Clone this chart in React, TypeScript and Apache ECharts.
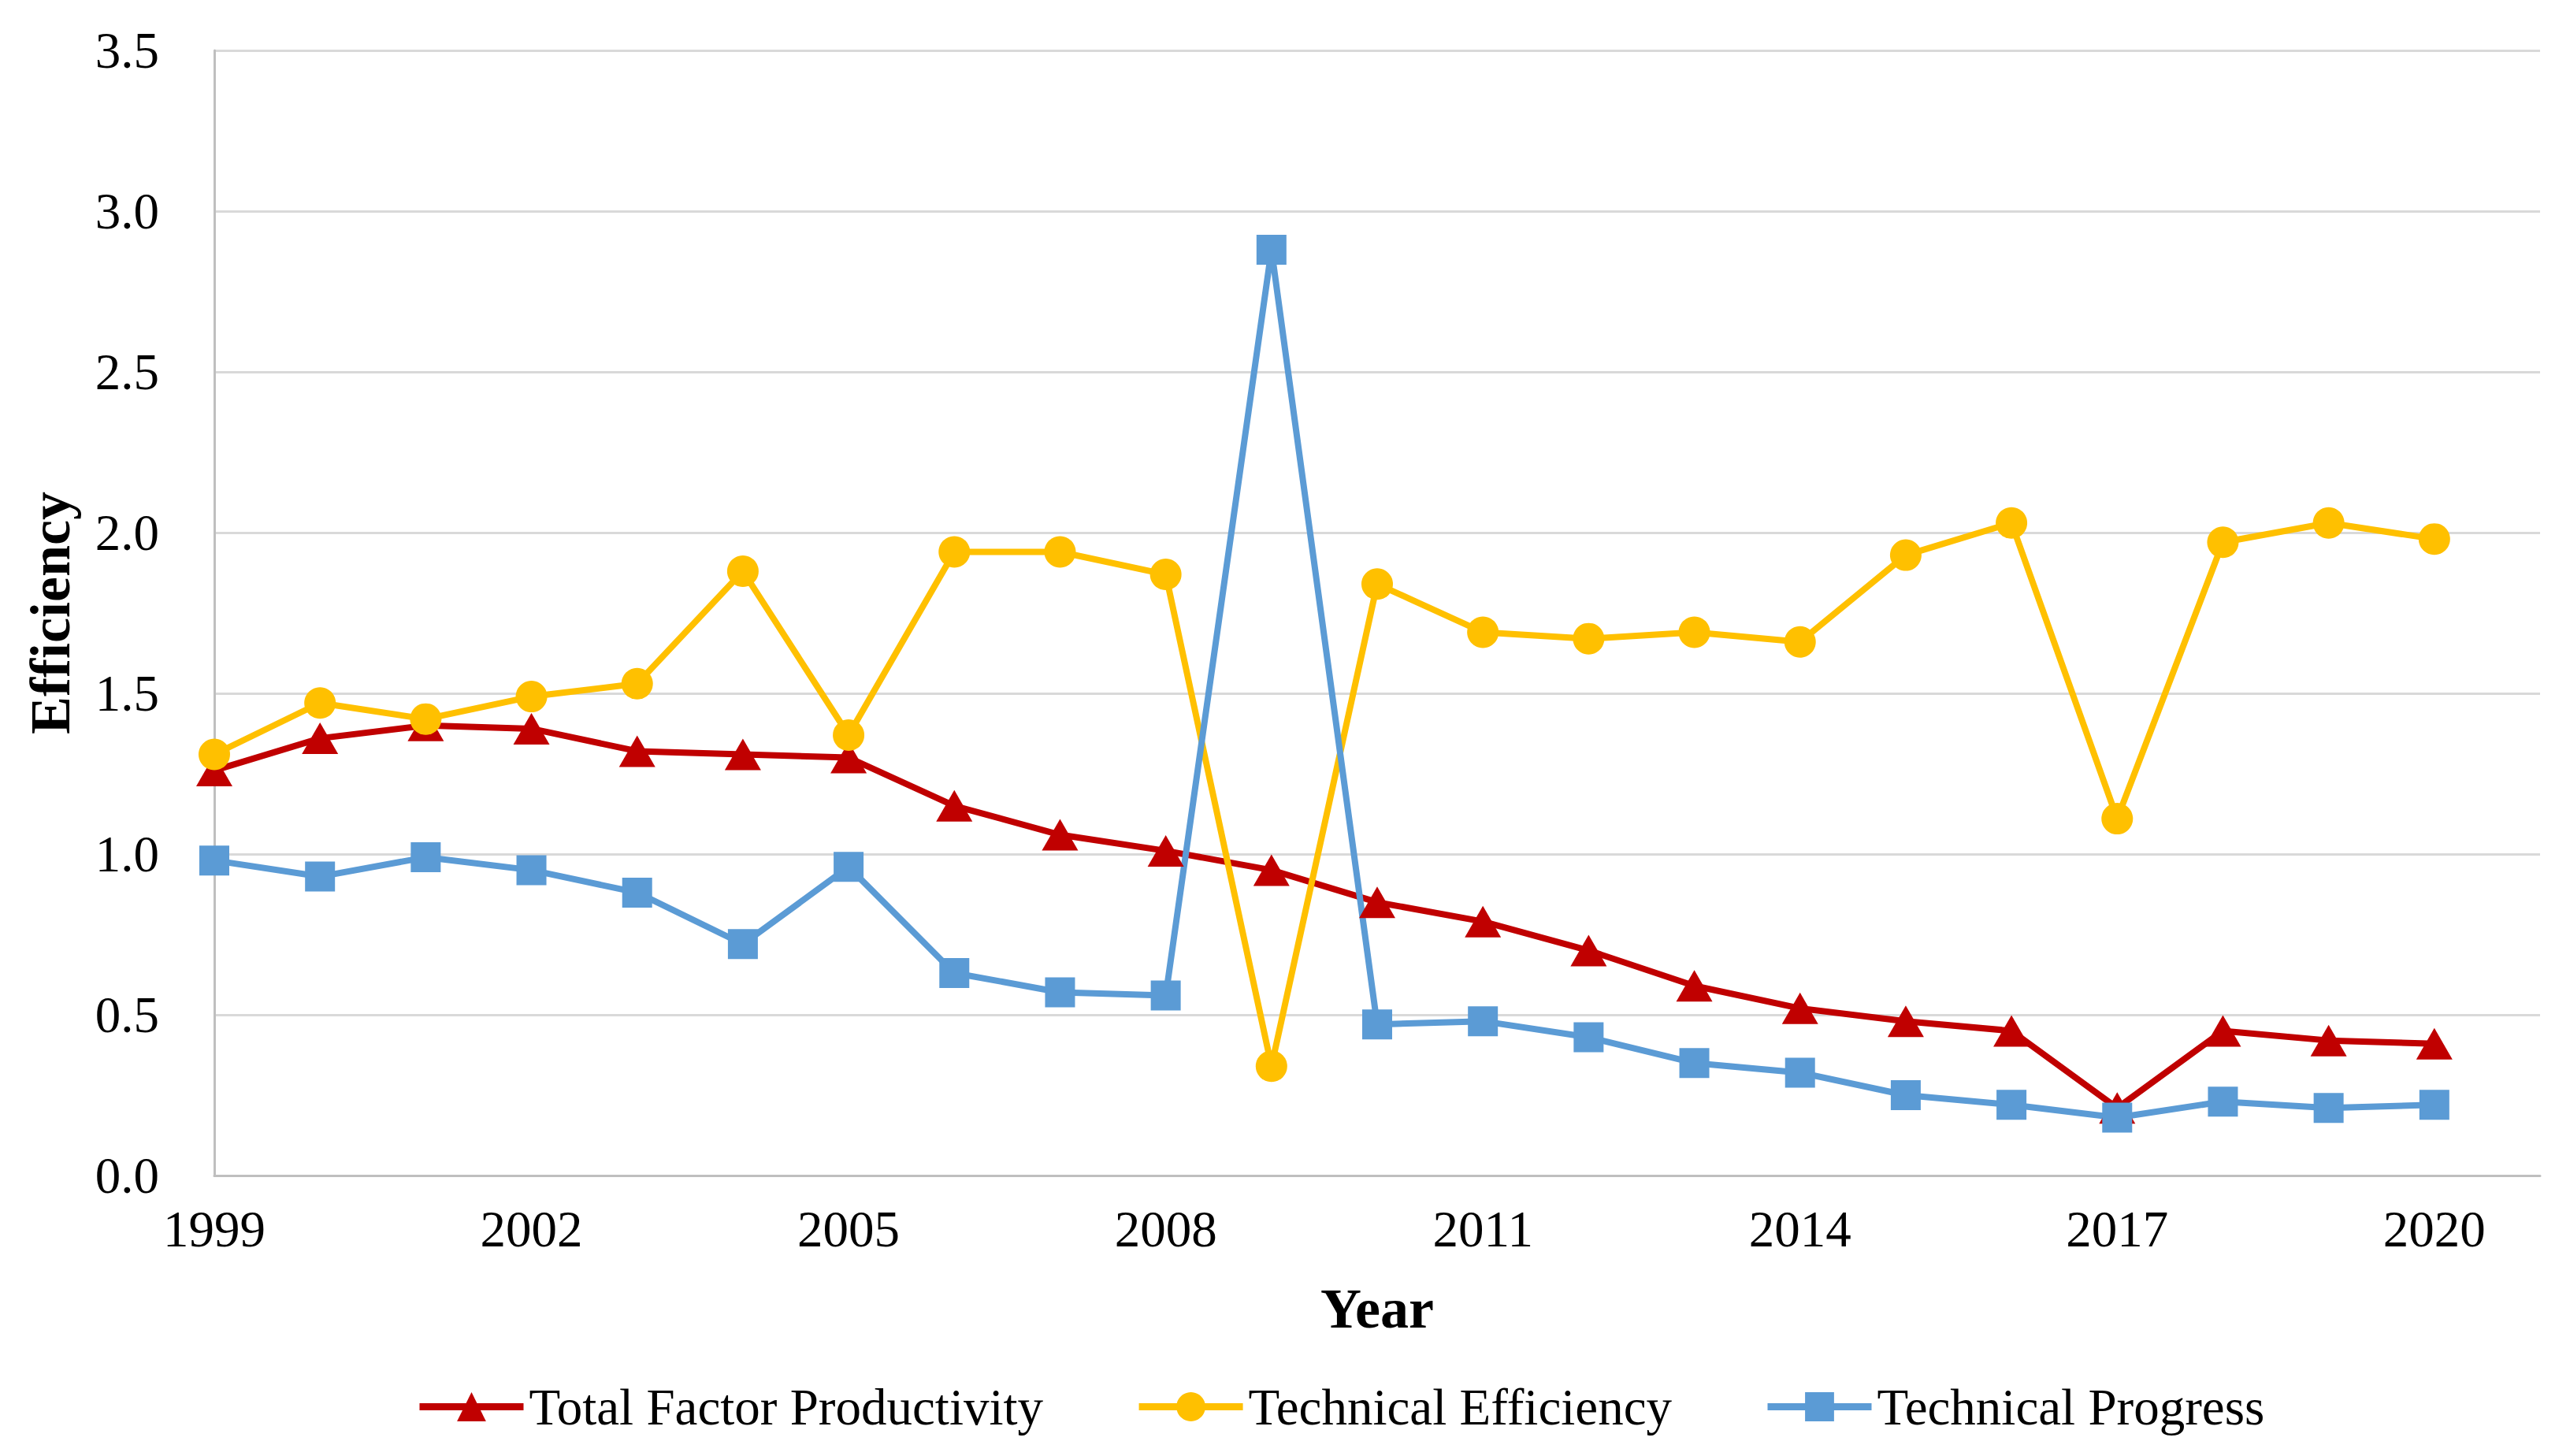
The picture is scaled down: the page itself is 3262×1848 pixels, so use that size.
import React, { useEffect, useRef } from "react";
import * as echarts from "echarts";

const years = [1999, 2000, 2001, 2002, 2003, 2004, 2005, 2006, 2007, 2008, 2009, 2010, 2011, 2012, 2013, 2014, 2015, 2016, 2017, 2018, 2019, 2020];
const tfp = [1.26, 1.36, 1.40, 1.39, 1.32, 1.31, 1.30, 1.15, 1.06, 1.01, 0.95, 0.85, 0.79, 0.70, 0.59, 0.52, 0.48, 0.45, 0.21, 0.45, 0.42, 0.41];
const techEff = [1.31, 1.47, 1.42, 1.49, 1.53, 1.88, 1.37, 1.94, 1.94, 1.87, 0.34, 1.84, 1.69, 1.67, 1.69, 1.66, 1.93, 2.03, 1.11, 1.97, 2.03, 1.98];
const techProg = [0.98, 0.93, 0.99, 0.95, 0.88, 0.72, 0.96, 0.63, 0.57, 0.56, 2.88, 0.47, 0.48, 0.43, 0.35, 0.32, 0.25, 0.22, 0.18, 0.23, 0.21, 0.22];
const seriesNames = ["Total Factor Productivity", "Technical Efficiency", "Technical Progress"];
const xMin = 1999;
const xMax = 2021;
const xLabelStep = 3;
const yMax = 3.5;
const yStep = 0.5;

const FONT = "'Liberation Serif', 'Times New Roman', serif";

export default function App() {
  const ref = useRef<HTMLDivElement>(null);
  useEffect(() => {
    if (!ref.current) return;
    const chart = echarts.init(ref.current, undefined, { renderer: "svg" });
    const pairs = (vals: number[]) => years.map((y, i) => [y, vals[i]]);
    const mk = (name: string, vals: number[], color: string, symbol: string, size: any) => ({
      name,
      type: "line",
      data: pairs(vals),
      symbol,
      symbolSize: size,
      lineStyle: { color, width: 8 },
      itemStyle: { color },
      z: 2,
    });
    chart.setOption({
      animation: false,
      backgroundColor: "#ffffff",
      grid: { left: 272, top: 64, right: 38, bottom: 356, containLabel: false },
      legend: {
        left: 523,
        top: 1748,
        itemWidth: 132,
        itemHeight: 46,
        itemGap: 117,
        lineStyle: { width: 9 },
        textStyle: { fontFamily: FONT, fontSize: 65, color: "#000", padding: [0, 0, 0, 2] },
        data: seriesNames,
      },
      xAxis: {
        type: "value",
        min: xMin,
        max: xMax,
        interval: 1,
        name: "Year",
        nameLocation: "middle",
        nameGap: 133,
        nameTextStyle: { fontFamily: FONT, fontSize: 72, fontWeight: "bold", color: "#000" },
        axisLine: { show: true, lineStyle: { color: "#BFBFBF", width: 3 } },
        axisTick: { show: false },
        splitLine: { show: false },
        axisLabel: {
          fontFamily: FONT,
          fontSize: 65,
          color: "#000",
          margin: 35,
          showMaxLabel: false,
          formatter: (v: number) => ((v - xMin) % xLabelStep === 0 && v < xMax ? String(v) : ""),
        },
      },
      yAxis: {
        type: "value",
        min: 0,
        max: yMax,
        interval: yStep,
        name: "Efficiency",
        nameLocation: "middle",
        nameRotate: 90,
        nameGap: 172,
        nameTextStyle: { fontFamily: FONT, fontSize: 72, fontWeight: "bold", color: "#000" },
        axisLine: { show: true, lineStyle: { color: "#BFBFBF", width: 3 } },
        axisTick: { show: false },
        splitLine: { show: true, lineStyle: { color: "#D9D9D9", width: 3 } },
        axisLabel: {
          fontFamily: FONT,
          fontSize: 65,
          color: "#000",
          margin: 70,
          formatter: (v: number) => v.toFixed(1),
        },
      },
      series: [
        mk(seriesNames[0], tfp, "#C00000", "triangle", [46, 40]),
        mk(seriesNames[1], techEff, "#FFC000", "circle", 40),
        mk(seriesNames[2], techProg, "#5B9BD5", "rect", 38),
      ],
    });
    return () => chart.dispose();
  }, []);
  return (
    <div
      ref={ref}
      style={{ position: "fixed", left: 0, top: 0, width: 3262, height: 1848, background: "#fff" }}
    />
  );
}
